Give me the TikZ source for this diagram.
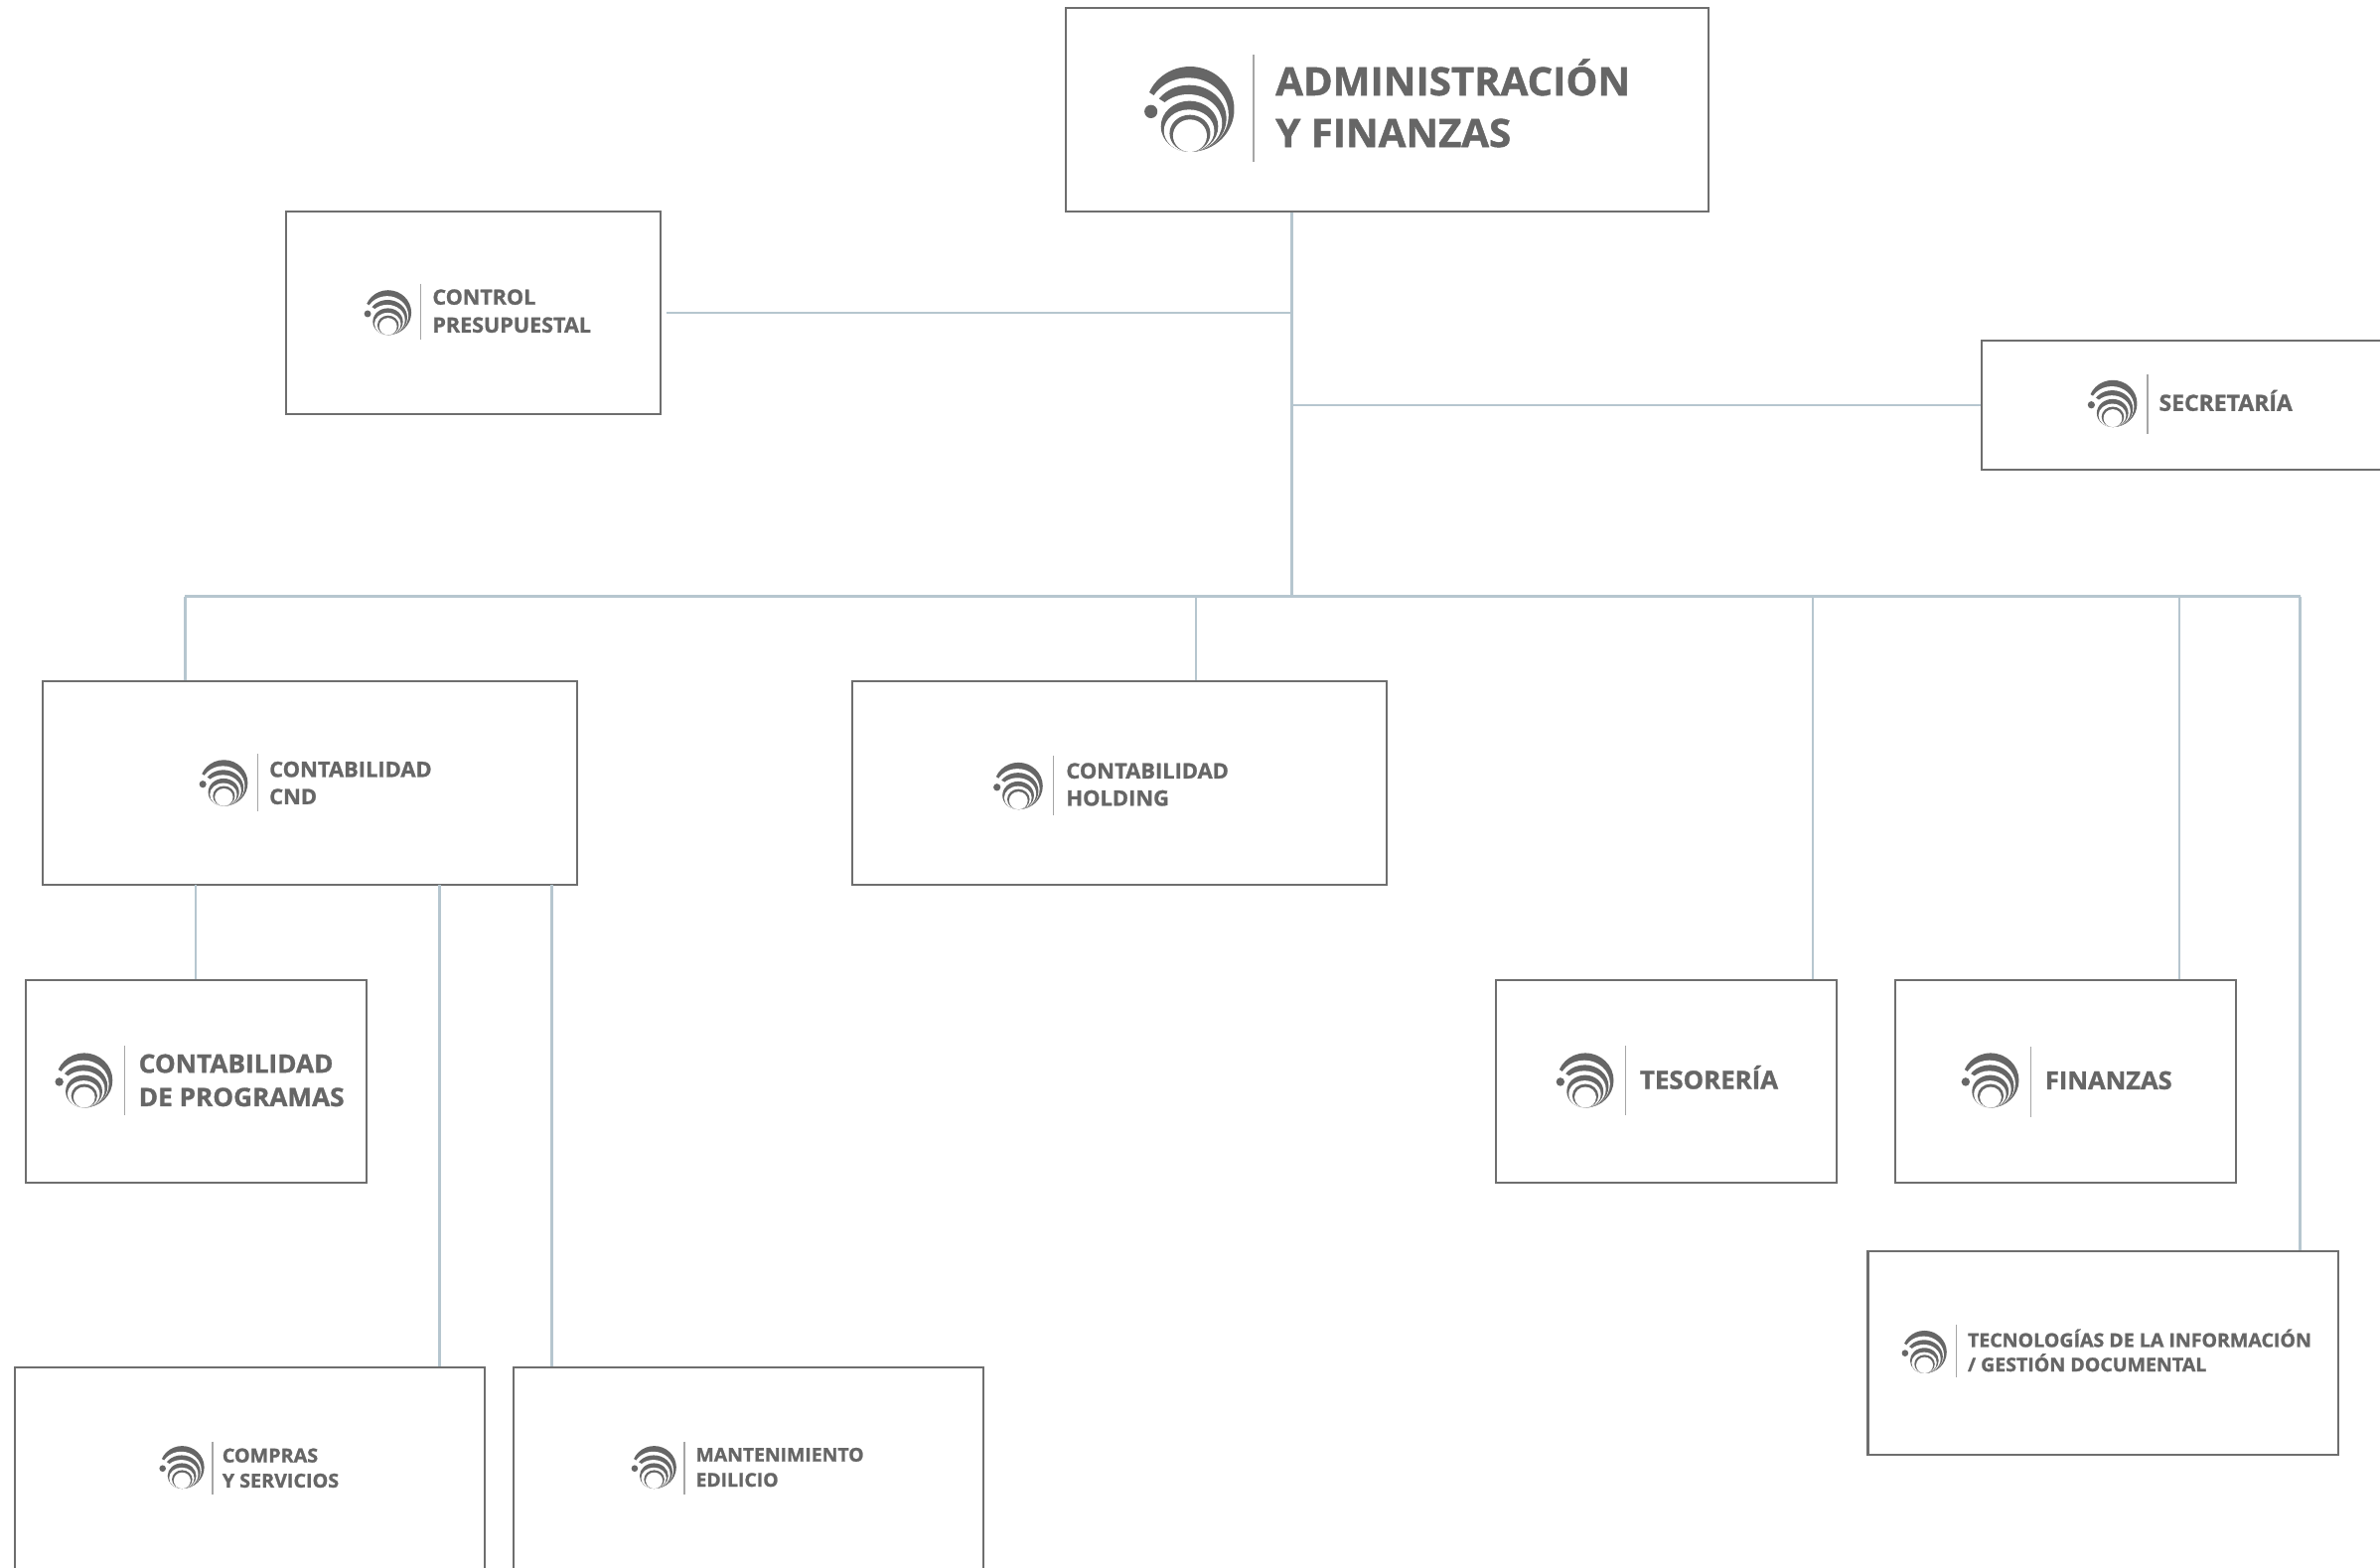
\documentclass[tikz,border=0pt]{standalone}
\usepackage{fontspec}
\setmainfont{Open Sans}
\newfontfamily\lblfont[FakeStretch=1.02]{Open Sans}
\definecolor{inkgrey}{HTML}{666666}
\definecolor{framegrey}{HTML}{6E6E6E}
\definecolor{wirecol}{HTML}{B6C6CF}
\definecolor{sepcol}{HTML}{A6A6A6}
\newlength\uu
\setlength\uu{0.01528cm}
\tikzset{
  boxst/.style={draw=framegrey,line width=0.6pt,fill=white,inner sep=0pt,anchor=north west},
  conn/.style={draw=wirecol,line width=0.7pt},
  sepline/.style={draw=sepcol,line width=0.4pt},
  lbl/.style={anchor=west,inner sep=0pt,align=left,text=inkgrey},
  pics/orglogo/.style={code={
    \begin{scope}[xscale=0.2857*#1,yscale=0.218*#1]
      \fill[inkgrey] (0,0) ellipse [x radius=102,y radius=129];
      \fill[white] (-4,17) ellipse [x radius=93,y radius=112];
      \fill[inkgrey] (-2,28) ellipse [x radius=86,y radius=101];
      \fill[white] (-4,42) ellipse [x radius=78,y radius=87];
      \fill[white] (-118,-71) -- (0,29) -- (0,140) -- (-118,140) -- cycle;
      \fill[inkgrey] (-1,52) ellipse [x radius=66,y radius=77];
      \fill[white] (-2,65) ellipse [x radius=58,y radius=64];
      \fill[inkgrey] (0,73) ellipse [x radius=47,y radius=56];
      \fill[white] (0,80) ellipse [x radius=39,y radius=49];
      \fill[inkgrey] (-90,7) ellipse [x radius=15,y radius=20];
    \end{scope}
  }}
}
\newcommand\orgbox[5]{\node[boxst,minimum width=#4*\uu,minimum height=#5*\uu] (#1) at (#2,#3) {};}
\newcommand\orglab[6]{\pgfmathsetmacro\strk{#4*0.012}\node[lbl,font={\lblfont\bfseries\fontsize{#4}{#5}\selectfont}] (#1) at (#2,#3) {\special{pdf:code 2 Tr \strk\space w}#6\special{pdf:code 0 Tr}};}
\begin{document}
\begin{tikzpicture}[x=0.01528cm,y=-0.01528cm]
\clip (0,0) rectangle (1568.06,1032.73);
\fill[white] (0,0) rectangle (1568.06,1032.73);
% boxes
\orgbox{top}{701.5}{4.5}{423.5}{134}
\orgbox{ctl}{187.5}{138.5}{247}{134}
\orgbox{sec}{1305}{224}{300}{85}
\orgbox{cnd}{27.5}{448.5}{352}{134}
\orgbox{hol}{561}{448.5}{352}{134}
\orgbox{pro}{16.5}{645}{224.5}{134}
\orgbox{tes}{985}{645}{224.5}{134}
\orgbox{fin}{1248}{645}{224.5}{134}
\orgbox{tic}{1230}{824}{310}{134}
\orgbox{com}{9}{900.5}{309.5}{160}
\orgbox{man}{337.5}{900.5}{309.5}{160}
% connector coordinates
\coordinate (bus) at (851,393);
\coordinate (busL) at (122,393);
\coordinate (busH) at (788,393);
\coordinate (busT) at (1194.5,393);
\coordinate (busF) at (1436,393);
\coordinate (busR) at (1515.5,393);
\coordinate (cndA) at (129,583);
\coordinate (cndB) at (289.5,583);
\coordinate (cndC) at (363.5,583);
% connectors
\draw[conn] (top.south -| bus) -- (bus);
\draw[conn] ([xshift=3*\uu]ctl.east) -- (ctl.east -| bus);
\draw[conn] (sec.west) -- (sec.west -| bus);
\draw[conn] (busL) -- (busR);
\draw[conn] (busL) -- (busL |- cnd.north);
\draw[conn] (busH) -- (busH |- hol.north);
\draw[conn] (busT) -- (busT |- tes.north);
\draw[conn] (busF) -- (busF |- fin.north);
\draw[conn] (busR) -- (busR |- tic.north);
\draw[conn] (cndA) -- (cndA |- pro.north);
\draw[conn] (cndB) -- (cndB |- com.north);
\draw[conn] (cndC) -- (cndC |- man.north);
% logos
\pic at (784,72) {orglogo=1};
\pic at (255.7,206) {orglogo=0.525};
\pic at (1392,266) {orglogo=0.55};
\pic at (147.5,516) {orglogo=0.54};
\pic at (671,518) {orglogo=0.55};
\pic at (55.5,712) {orglogo=0.64};
\pic at (1044.5,712) {orglogo=0.64};
\pic at (1311.5,712) {orglogo=0.64};
\pic at (1268,891) {orglogo=0.5};
\pic at (120,967) {orglogo=0.5};
\pic at (431,967) {orglogo=0.5};
% separators
\draw[sepline] (826,36) -- (826,107);
\draw[sepline] (277,187) -- (277,224);
\draw[sepline] (1415,247) -- (1415,286);
\draw[sepline] (170,497) -- (170,535);
\draw[sepline] (694,498) -- (694,537);
\draw[sepline] (82,689) -- (82,735);
\draw[sepline] (1071,689) -- (1071,735);
\draw[sepline] (1338,690) -- (1338,736);
\draw[sepline] (1289,873) -- (1289,908);
\draw[sepline] (140,950) -- (140,985);
\draw[sepline] (451,950) -- (451,985);
% labels
\orglab{ltop}{840}{68}{11.2}{14.8}{ADMINISTRACIÓN\\Y FINANZAS}
\orglab{lctl}{284.5}{205}{6}{8}{CONTROL\\PRESUPUESTAL}
\orglab{lsec}{1422}{264}{6.4}{7.8}{SECRETARÍA}
\orglab{lcnd}{177}{516}{6.1}{7.8}{CONTABILIDAD\\CND}
\orglab{lhol}{702}{517}{6.1}{7.8}{CONTABILIDAD\\HOLDING}
\orglab{lpro}{91}{712}{7.3}{9.6}{CONTABILIDAD\\DE PROGRAMAS}
\orglab{ltes}{1080}{710}{7.2}{9.6}{TESORERÍA}
\orglab{lfin}{1347}{712}{7.1}{9.6}{FINANZAS}
\orglab{ltic}{1296}{890}{5.45}{7}{TECNOLOGÍAS DE LA INFORMACIÓN\\/ GESTIÓN DOCUMENTAL}
\orglab{lcom}{146}{967.5}{5.5}{7.2}{COMPRAS\\Y SERVICIOS}
\orglab{lman}{458}{967}{5.4}{7.2}{MANTENIMIENTO\\EDILICIO}
\end{tikzpicture}
\end{document}
